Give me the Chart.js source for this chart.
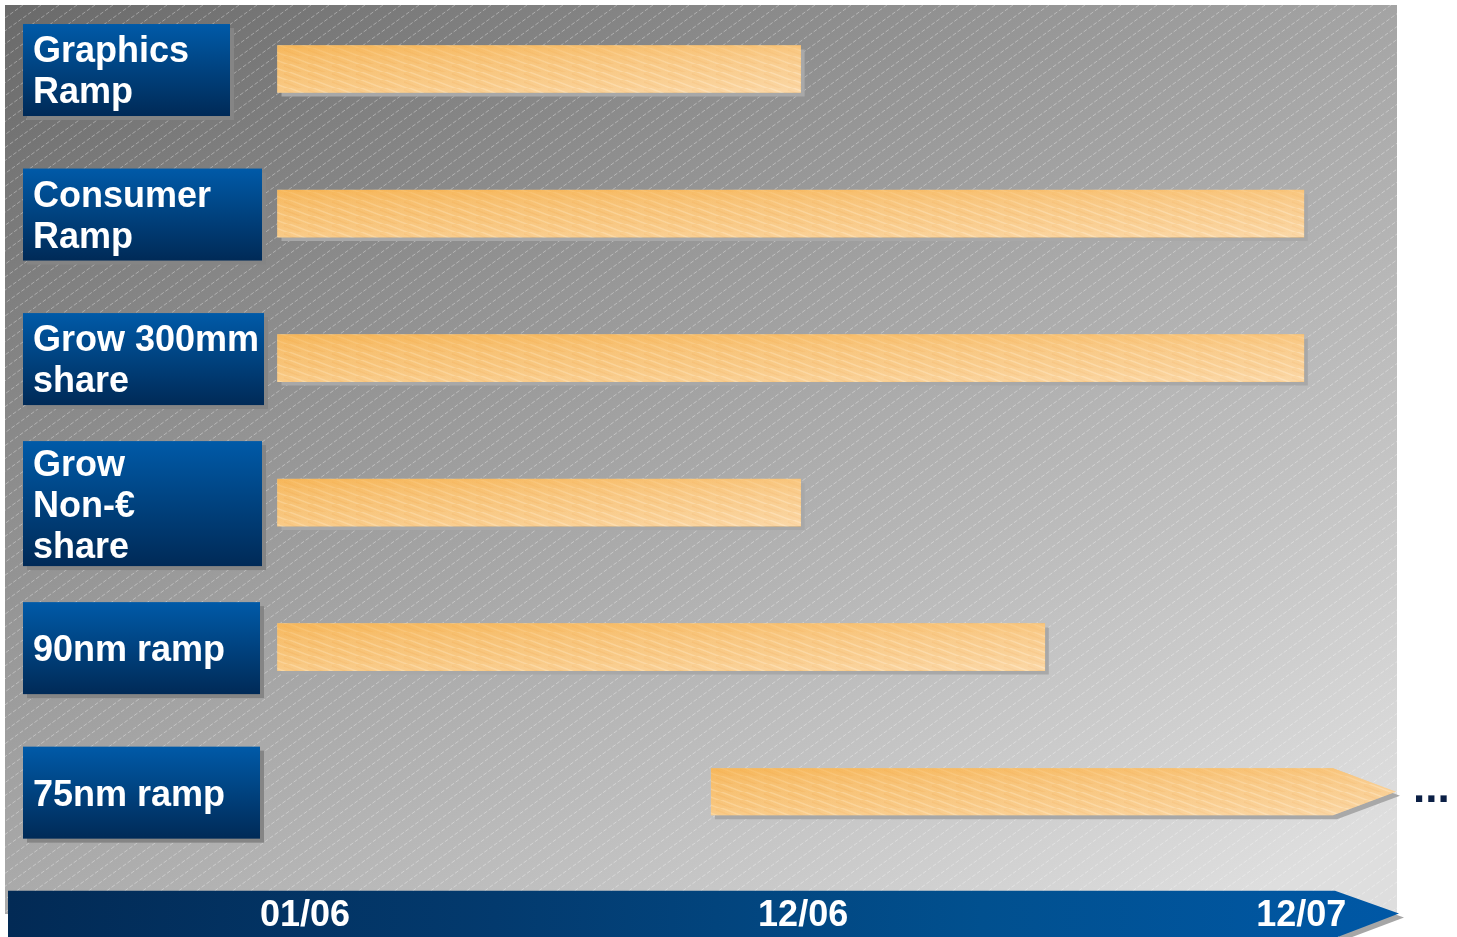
<!DOCTYPE html>
<html>
<head>
<meta charset="utf-8">
<script src="https://cdn.jsdelivr.net/npm/chart.js@4/dist/chart.umd.min.js"></script>
<style>
  html, body { margin: 0; padding: 0; background: #fff; }
  #wrap { width: 1457px; height: 937px; }
</style>
</head>
<body>
<div id="wrap"><canvas id="chart"></canvas></div>
<script>
// Data (x in timeline periods: 0 = 01/06, 1 = 12/06, 2 = 12/07)
const categories = [
  ["Graphics", "Ramp"],
  ["Consumer", "Ramp"],
  ["Grow 300mm", "share"],
  ["Grow", "Non-€", "share"],
  ["90nm ramp"],
  ["75nm ramp"]
];
const barStart = [-0.055, -0.055, -0.055, -0.055, -0.055, 0.815];
const barEnd = [0.995, 2.005, 2.005, 0.995, 1.485, 2.19];
const tickValues = [0, 1, 2];
const tickLabels = ["01/06", "12/06", "12/07"];
const openEndedRow = 5; // this bar continues past the chart ("...")

// label box widths (px)
const boxWidths = [207, 239, 241, 239, 237, 237];
const FONT = '"Liberation Sans", Arial, Helvetica, sans-serif';

// bar texture
function makeBarPattern() {
  const c = document.createElement("canvas");
  c.width = 24; c.height = 8;
  const g = c.getContext("2d");
  g.fillStyle = "#f8c880";
  g.fillRect(0, 0, 24, 8);
  g.strokeStyle = "rgba(255,236,200,0.55)";
  g.lineWidth = 1.5;
  for (let k = -2; k < 3; k++) {
    g.beginPath();
    g.moveTo(-4 + k * 24, 0 - 2);
    g.lineTo(28 + k * 24, 10);
    g.stroke();
  }
  g.strokeStyle = "rgba(240,170,80,0.35)";
  for (let k = -2; k < 3; k++) {
    g.beginPath();
    g.moveTo(-4 + k * 24, 4 - 2);
    g.lineTo(28 + k * 24, 14);
    g.stroke();
  }
  return g.createPattern(c, "repeat");
}
const barPattern = makeBarPattern();

function barGeom(el) {
  const p = el.getProps(["x", "y", "base", "height"], true);
  const left = Math.min(p.x, p.base), right = Math.max(p.x, p.base);
  return { left: left, right: right, top: p.y - p.height / 2, bottom: p.y + p.height / 2, cy: p.y };
}

function barPath(ctx, b, pointed, dx, dy) {
  dx = dx || 0; dy = dy || 0;
  ctx.beginPath();
  if (pointed) {
    const tip = 63;
    ctx.moveTo(b.left + dx, b.top + dy);
    ctx.lineTo(b.right - tip + dx, b.top + dy);
    ctx.lineTo(b.right + dx, b.cy + dy);
    ctx.lineTo(b.right - tip + dx, b.bottom + dy);
    ctx.lineTo(b.left + dx, b.bottom + dy);
  } else {
    ctx.rect(b.left + dx, b.top + dy, b.right - b.left, b.bottom - b.top);
  }
  ctx.closePath();
}

// panel background, timeline arrow, shadows, label boxes
const backdrop = {
  id: "backdrop",
  beforeDraw(chart) {
    const ctx = chart.ctx;
    const area = chart.chartArea;
    const pl = 5, pt = 5, pr = 1397, pb = 914;
    ctx.save();
    ctx.fillStyle = "#ffffff";
    ctx.fillRect(0, 0, chart.width, chart.height);

    const g = ctx.createLinearGradient(pl, pt, pl + 701, pt + 1209);
    g.addColorStop(0, "#6a6a6a");
    g.addColorStop(1, "#dedede");
    ctx.fillStyle = g;
    ctx.fillRect(pl, pt, pr - pl, pb - pt);

    // diagonal stripes
    ctx.beginPath();
    ctx.rect(pl, pt, pr - pl, pb - pt);
    ctx.clip();
    ctx.strokeStyle = "rgba(255,255,255,0.34)";
    ctx.lineWidth = 1;
    ctx.setLineDash([4, 2]);
    const slope = 0.72;
    const span = (pb - pt) / slope;
    for (let x = pl; x < pr + span; x += 18) {
      ctx.beginPath();
      ctx.moveTo(x, pt);
      ctx.lineTo(x - span, pb);
      ctx.stroke();
    }
    ctx.restore();

    // timeline arrow
    const top = area.bottom - 1, bot = chart.height + 1;
    const mid = (top + bot) / 2 - 1;
    const tipX = area.right + 3, neckX = tipX - 64;
    ctx.save();
    ctx.fillStyle = "#a6a6a6";
    ctx.beginPath();
    ctx.moveTo(neckX + 4, top + 4);
    ctx.lineTo(tipX + 5, mid + 4);
    ctx.lineTo(neckX + 4, bot + 4);
    ctx.closePath();
    ctx.fill();
    const tg = ctx.createLinearGradient(8, 0, tipX, 0);
    tg.addColorStop(0, "#022a55");
    tg.addColorStop(0.35, "#033a6e");
    tg.addColorStop(0.7, "#01508f");
    tg.addColorStop(1, "#0058a6");
    ctx.fillStyle = tg;
    ctx.beginPath();
    ctx.moveTo(8, top);
    ctx.lineTo(neckX, top);
    ctx.lineTo(tipX, mid);
    ctx.lineTo(neckX, bot);
    ctx.lineTo(8, bot);
    ctx.closePath();
    ctx.fill();
    ctx.restore();
  },
  beforeDatasetsDraw(chart) {
    const ctx = chart.ctx;
    const meta = chart.getDatasetMeta(0);
    ctx.save();
    ctx.fillStyle = "#a8a8a8";
    meta.data.forEach((el, i) => {
      barPath(ctx, barGeom(el), i === openEndedRow, 4, 4);
      ctx.fill();
    });
    ctx.restore();
  },
  afterDatasetsDraw(chart) {
    const ctx = chart.ctx;
    const meta = chart.getDatasetMeta(0);
    const yScale = chart.scales.y;
    ctx.save();
    meta.data.forEach((el, i) => {
      const b = barGeom(el);
      const pointed = i === openEndedRow;
      if (pointed) {
        barPath(ctx, b, true);
        ctx.fillStyle = barPattern;
        ctx.fill();
      }
      // shading overlays
      const vg = ctx.createLinearGradient(0, b.top, 0, b.bottom);
      vg.addColorStop(0, "rgba(246,176,72,0.65)");
      vg.addColorStop(0.45, "rgba(246,188,105,0.18)");
      vg.addColorStop(1, "rgba(255,232,200,0.32)");
      barPath(ctx, b, pointed);
      ctx.fillStyle = vg;
      ctx.fill();
      const hg = ctx.createLinearGradient(b.left, 0, b.right, 0);
      hg.addColorStop(0, "rgba(245,175,80,0.2)");
      hg.addColorStop(1, "rgba(255,235,220,0.25)");
      ctx.fillStyle = hg;
      ctx.fill();
    });

    // "..." after the open-ended bar
    const last = barGeom(meta.data[openEndedRow]);
    ctx.fillStyle = "#0b1f45";
    ctx.font = "bold 44px " + FONT;
    ctx.textBaseline = "alphabetic";
    ctx.textAlign = "left";
    ctx.fillText("...", last.right + 17, last.cy + 10);

    // category label boxes
    categories.forEach((lines, i) => {
      const cy = yScale.getPixelForValue(i) + 1;
      const h = lines.length > 2 ? 125 : 92;
      const x0 = 23, y0 = cy - h / 2, w = boxWidths[i];
      ctx.fillStyle = "#858585";
      ctx.fillRect(x0 + 4, y0 + 4, w, h);
      const bg = ctx.createLinearGradient(0, y0, 0, y0 + h);
      bg.addColorStop(0, "#005aa8");
      bg.addColorStop(0.5, "#00427f");
      bg.addColorStop(1, "#002a57");
      ctx.fillStyle = bg;
      ctx.fillRect(x0, y0, w, h);
      ctx.fillStyle = "#ffffff";
      ctx.font = "bold 36px " + FONT;
      ctx.textBaseline = "middle";
      lines.forEach((t, k) => {
        const ly = cy + (k - (lines.length - 1) / 2) * 41 + 3;
        ctx.fillText(t, x0 + 10, ly);
      });
    });
    ctx.restore();
  }
};

const ctx = document.getElementById("chart").getContext("2d");
new Chart(ctx, {
  type: "bar",
  data: {
    datasets: [{
      data: categories.map((c, i) => ({ y: i, x: [barStart[i], barEnd[i]] })),
      backgroundColor: (c) => c.dataIndex === openEndedRow ? "rgba(0,0,0,0)" : barPattern,
      borderWidth: 0,
      barThickness: 47
    }]
  },
  options: {
    indexAxis: "y",
    responsive: true,
    maintainAspectRatio: false,
    animation: false,
    events: [],
    layout: { padding: { left: 6, right: 61, top: 5, bottom: -4 } },
    plugins: { legend: { display: false }, tooltip: { enabled: false } },
    scales: {
      x: {
        type: "linear",
        position: "bottom",
        min: -0.6,
        max: 2.19,
        afterBuildTicks: (scale) => { scale.ticks = tickValues.map(v => ({ value: v })); },
        grid: { display: false, drawTicks: false },
        border: { display: false },
        ticks: {
          color: "#ffffff",
          font: { family: FONT, size: 36, weight: "bold" },
          padding: 3,
          maxRotation: 0,
          autoSkip: false,
          callback: (v) => tickLabels[tickValues.indexOf(v)]
        }
      },
      y: {
        type: "linear",
        display: false,
        offset: false,
        reverse: true,
        min: -0.443,
        max: 5.693
      }
    }
  },
  plugins: [backdrop]
});
</script>
</body>
</html>
